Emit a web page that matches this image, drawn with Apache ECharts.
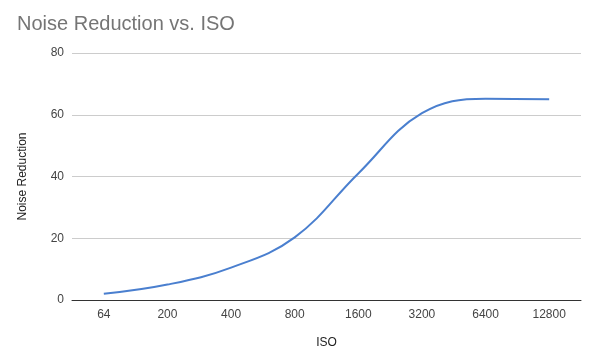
<!DOCTYPE html>
<html><head><meta charset="utf-8">
<script src="https://cdn.jsdelivr.net/npm/echarts@6/dist/echarts.min.js"></script>
<style>html,body{margin:0;padding:0;background:#fff}#c{width:595px;height:361px}</style>
</head><body><div id="c"></div>
<script>
const isoLabels = ['64','200','400','800','1600','3200','6400','12800'];
const noiseReduction = [2, 5, 10.5, 20.3, 41, 60.5, 65.2, 65];
const yTicks = {min: 0, max: 80, interval: 20};

const chart = echarts.init(document.getElementById('c'));
chart.setOption({
  animation: false,
  backgroundColor: '#fff',
  title: {
    text: 'Noise Reduction vs. ISO',
    left: 12, top: 9,
    textStyle: {fontFamily: 'Arial, Liberation Sans', fontSize: 20, fontWeight: 'normal', color: '#757575'}
  },
  grid: {left: 72, right: 14, top: 53, bottom: 61},
  xAxis: {
    type: 'category',
    data: isoLabels,
    boundaryGap: true,
    name: 'ISO',
    nameLocation: 'middle',
    nameGap: 37,
    nameTextStyle: {fontFamily: 'Arial, Liberation Sans', fontSize: 12, color: '#222'},
    axisLine: {lineStyle: {color: '#333', width: 1}},
    axisTick: {show: false},
    axisLabel: {fontFamily: 'Arial, Liberation Sans', fontSize: 12, color: '#444', margin: 9}
  },
  yAxis: {
    type: 'value',
    min: yTicks.min, max: yTicks.max, interval: yTicks.interval,
    name: 'Noise Reduction',
    nameLocation: 'middle',
    nameGap: 43,
    nameTextStyle: {fontFamily: 'Arial, Liberation Sans', fontSize: 12, color: '#222'},
    axisLine: {show: false},
    axisTick: {show: false},
    axisLabel: {fontFamily: 'Arial, Liberation Sans', fontSize: 12, color: '#444', margin: 8},
    splitLine: {lineStyle: {color: '#cccccc', width: 1}}
  },
  series: [{
    type: 'line',
    data: noiseReduction,
    smooth: 0.4,
    showSymbol: false,
    lineStyle: {color: '#4a7fcf', width: 2}
  }]
});
</script></body></html>
